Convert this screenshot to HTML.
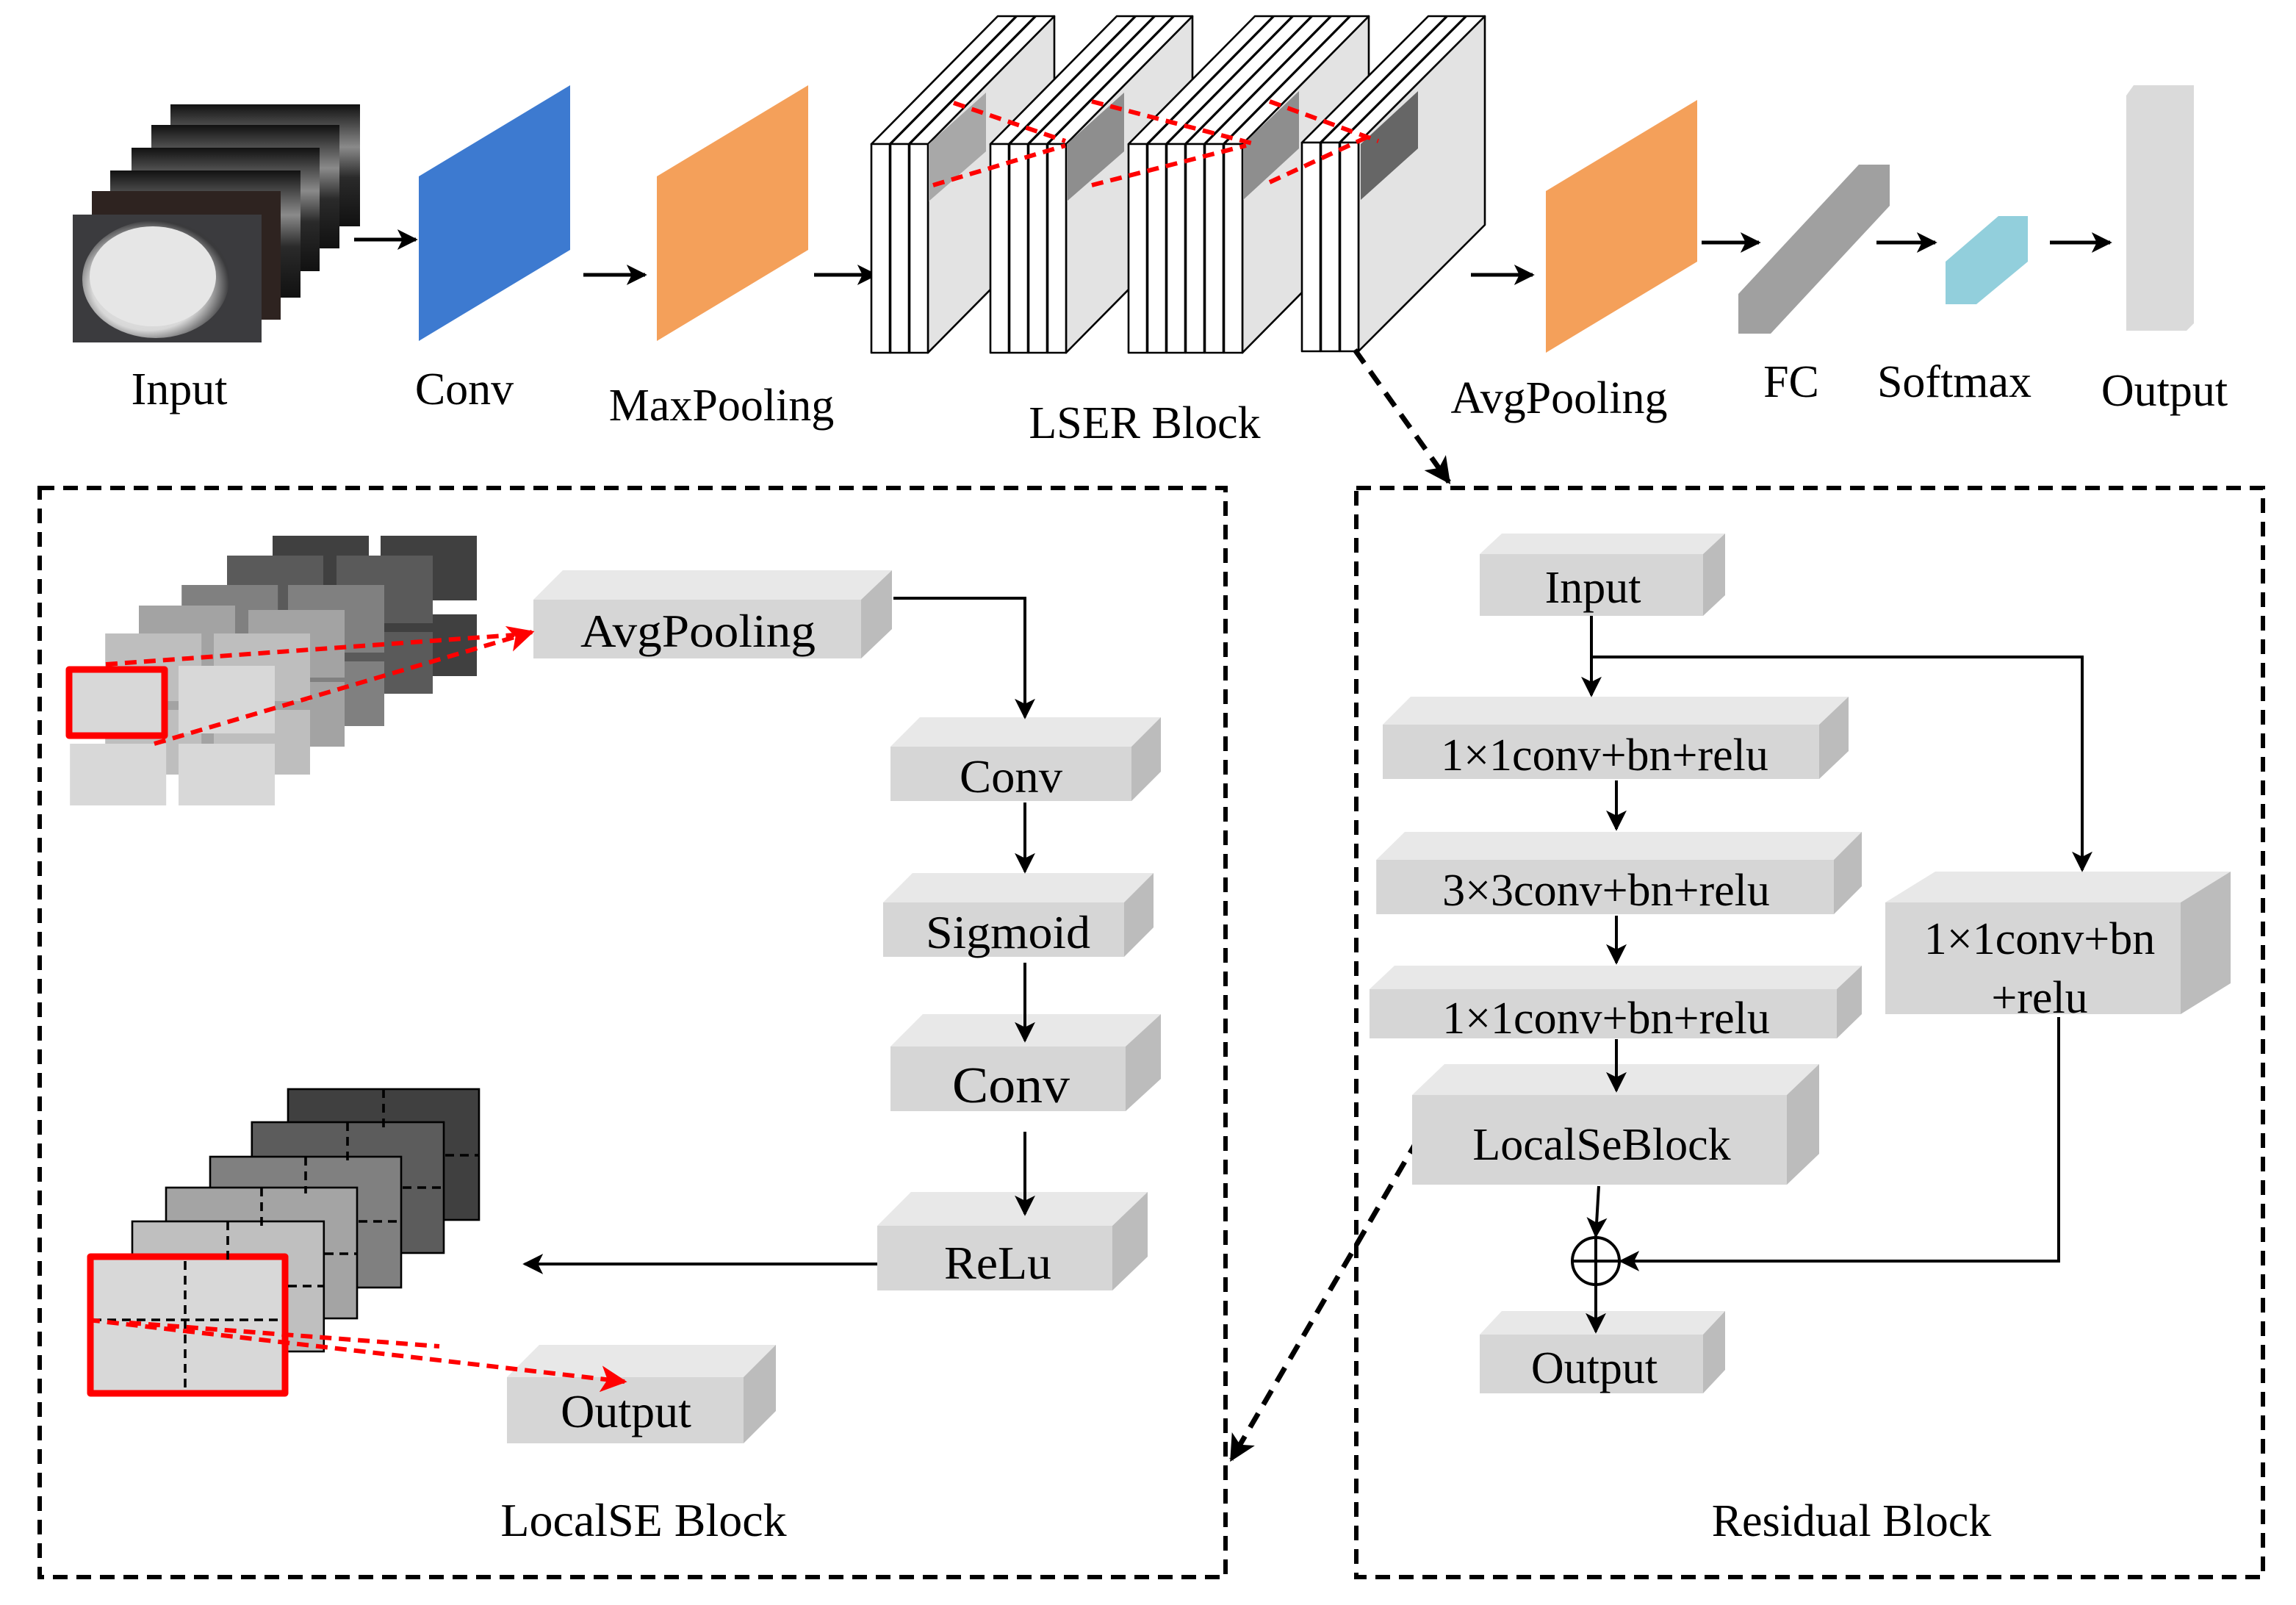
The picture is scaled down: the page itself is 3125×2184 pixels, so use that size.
<!DOCTYPE html>
<html><head><meta charset="utf-8"><style>html,body{margin:0;padding:0;background:#fff}svg{display:block}</style></head>
<body>
<svg xmlns="http://www.w3.org/2000/svg" width="3125" height="2184" viewBox="0 0 1562.5 1092" font-family="'Liberation Serif', serif">
<defs>
<marker id="ah" viewBox="0 0 10 10" refX="9" refY="5" markerWidth="14" markerHeight="14" markerUnits="userSpaceOnUse" orient="auto"><path d="M0,0 L10,5 L0,10 L2.5,5 z" fill="#000"/></marker>
<marker id="rh" viewBox="0 0 10 10" refX="9" refY="5" markerWidth="18" markerHeight="18" markerUnits="userSpaceOnUse" orient="auto"><path d="M0,0 L10,5 L0,10 L2.5,5 z" fill="#f00"/></marker>
<marker id="dh" viewBox="0 0 10 10" refX="9" refY="5" markerWidth="18" markerHeight="18" markerUnits="userSpaceOnUse" orient="auto"><path d="M0,0 L10,5 L0,10 L2.5,5 z" fill="#000"/></marker>
<radialGradient id="blob" cx="0.45" cy="0.55" r="0.55"><stop offset="0" stop-color="#f2f2f2"/><stop offset="0.7" stop-color="#d8d8d8"/><stop offset="1" stop-color="#3a3a3c"/></radialGradient>
<linearGradient id="fr" x1="0" y1="0" x2="0" y2="1"><stop offset="0" stop-color="#111"/><stop offset="0.35" stop-color="#8a8a8a"/><stop offset="0.6" stop-color="#2a2a2a"/><stop offset="1" stop-color="#111"/></linearGradient>
</defs>

<rect x="116" y="71" width="129" height="83" fill="url(#fr)"/>
<rect x="103" y="85" width="128" height="84" fill="url(#fr)"/>
<rect x="89.5" y="100.5" width="128" height="84" fill="url(#fr)"/>
<rect x="75" y="116" width="129.5" height="86.5" fill="url(#fr)"/>
<rect x="62.5" y="130" width="128.5" height="87.5" fill="#2e2320"/>
<rect x="49.5" y="146" width="128.5" height="87" fill="#3b3b3e"/>
<ellipse cx="106" cy="190" rx="50" ry="40" fill="url(#blob)"/>
<ellipse cx="104" cy="188" rx="43" ry="34" fill="#e6e6e6"/>

<g stroke="#000" stroke-width="2.5" fill="none" marker-end="url(#ah)">
<line x1="241" y1="163" x2="283" y2="163"/>
<line x1="397" y1="187" x2="439" y2="187"/>
<line x1="554" y1="187" x2="596" y2="187"/>
<line x1="1001" y1="187" x2="1043" y2="187"/>
<line x1="1158" y1="165" x2="1197" y2="165"/>
<line x1="1277" y1="165" x2="1317" y2="165"/>
<line x1="1395" y1="165" x2="1436" y2="165"/>
</g>

<polygon points="285,120 388,58 388,170 285,232" fill="#3d7ad0"/>
<polygon points="447,120 550,58 550,170 447,232" fill="#f4a05a"/>
<polygon points="1052,130 1155,68 1155,178 1052,240" fill="#f4a05a"/>
<polygon points="1183,200 1265,112 1286,112 1286,140 1205,227 1183,227" fill="#a0a0a0"/>
<polygon points="1324,178 1360,147 1380,147 1380,178 1345,207 1324,207" fill="#92cfdc"/>
<polygon points="1447,65 1452,58 1493,58 1493,220 1488,225 1447,225" fill="#dadada"/>

<g stroke="#000" stroke-width="1.3" stroke-linejoin="round">
<polygon points="631.5,98 717.5,11 717.5,153 631.5,240" fill="#e3e3e3"/>
<g fill="#fff">
<polygon points="593,98 679,11 691.5,11 605.5,98"/><rect x="593" y="98" width="12.5" height="142"/>
<polygon points="606,98 692,11 704.5,11 618.5,98"/><rect x="606" y="98" width="12.5" height="142"/>
<polygon points="619,98 705,11 717.5,11 631.5,98"/><rect x="619" y="98" width="12.5" height="142"/>
</g>
<polygon points="632,98 671,63 671,103 632,137" fill="#a8a8a8" stroke="none"/>
<polygon points="725.5,98 811.5,11 811.5,153 725.5,240" fill="#e3e3e3"/>
<g fill="#fff">
<polygon points="674,98 760,11 772.5,11 686.5,98"/><rect x="674" y="98" width="12.5" height="142"/>
<polygon points="687,98 773,11 785.5,11 699.5,98"/><rect x="687" y="98" width="12.5" height="142"/>
<polygon points="700,98 786,11 798.5,11 712.5,98"/><rect x="700" y="98" width="12.5" height="142"/>
<polygon points="713,98 799,11 811.5,11 725.5,98"/><rect x="713" y="98" width="12.5" height="142"/>
</g>
<polygon points="726,98 765,63 765,103 726,137" fill="#8e8e8e" stroke="none"/>
<polygon points="845.5,98 931.5,11 931.5,153 845.5,240" fill="#e3e3e3"/>
<g fill="#fff">
<polygon points="768,98 854,11 866.5,11 780.5,98"/><rect x="768" y="98" width="12.5" height="142"/>
<polygon points="781,98 867,11 879.5,11 793.5,98"/><rect x="781" y="98" width="12.5" height="142"/>
<polygon points="794,98 880,11 892.5,11 806.5,98"/><rect x="794" y="98" width="12.5" height="142"/>
<polygon points="807,98 893,11 905.5,11 819.5,98"/><rect x="807" y="98" width="12.5" height="142"/>
<polygon points="820,98 906,11 918.5,11 832.5,98"/><rect x="820" y="98" width="12.5" height="142"/>
<polygon points="833,98 919,11 931.5,11 845.5,98"/><rect x="833" y="98" width="12.5" height="142"/>
</g>
<polygon points="846,98 884,62 884,101 846,136" fill="#8e8e8e" stroke="none"/>
<polygon points="924.5,97 1010.5,11 1010.5,153 924.5,239" fill="#e3e3e3"/>
<g fill="#fff">
<polygon points="886,97 972,11 984.5,11 898.5,97"/><rect x="886" y="97" width="12.5" height="142"/>
<polygon points="899,97 985,11 997.5,11 911.5,97"/><rect x="899" y="97" width="12.5" height="142"/>
<polygon points="912,97 998,11 1010.5,11 924.5,97"/><rect x="912" y="97" width="12.5" height="142"/>
</g>
<polygon points="926,98 965,62 965,101 926,136" fill="#666" stroke="none"/>
</g>
<g stroke="#f00" stroke-width="3" stroke-dasharray="8,5" fill="none">
<line x1="649" y1="70" x2="725" y2="96"/>
<line x1="635" y1="126" x2="725" y2="99"/>
<line x1="743" y1="69" x2="854" y2="98"/>
<line x1="743" y1="126" x2="848" y2="99"/>
<line x1="864" y1="69" x2="938" y2="96"/>
<line x1="864" y1="124" x2="931" y2="93"/>
</g>

<g font-size="31" text-anchor="middle" fill="#000">
<text x="122" y="275">Input</text>
<text x="316" y="275">Conv</text>
<text x="491" y="286">MaxPooling</text>
<text x="779" y="298">LSER Block</text>
<text x="1061" y="281">AvgPooling</text>
<text x="1219" y="270">FC</text>
<text x="1330" y="270">Softmax</text>
<text x="1473" y="276">Output</text>
</g>

<g stroke="#000" stroke-width="3" stroke-dasharray="10,6" fill="none">
<rect x="27" y="332" width="807" height="741"/>
<rect x="923" y="332" width="617" height="741"/>
</g>
<line x1="922" y1="238" x2="986" y2="328" stroke="#000" stroke-width="3.5" stroke-dasharray="11,7" marker-end="url(#dh)"/>
<line x1="965" y1="775" x2="838" y2="993" stroke="#000" stroke-width="3.5" stroke-dasharray="11,7" marker-end="url(#dh)"/>

<g>
<g fill="#404040"><rect x="185.5" y="364.5" width="65.5" height="44"/><rect x="259" y="364.5" width="65.5" height="44"/><rect x="185.5" y="418" width="65.5" height="42"/><rect x="259" y="418" width="65.5" height="42"/></g>
<g fill="#5a5a5a"><rect x="154.5" y="378" width="65.5" height="46"/><rect x="229" y="378" width="65.5" height="46"/><rect x="154.5" y="430" width="65.5" height="42"/><rect x="229" y="430" width="65.5" height="42"/></g>
<g fill="#808080"><rect x="123.6" y="398" width="65.5" height="46"/><rect x="196" y="398" width="65.5" height="46"/><rect x="123.6" y="450" width="65.5" height="44"/><rect x="196" y="450" width="65.5" height="44"/></g>
<g fill="#a3a3a3"><rect x="94.5" y="412" width="65.5" height="48"/><rect x="169" y="415" width="65.5" height="46"/><rect x="94.5" y="464" width="65.5" height="44"/><rect x="169" y="464" width="65.5" height="44"/></g>
<g fill="#bebebe"><rect x="71.6" y="431" width="65.5" height="46"/><rect x="145.5" y="431" width="65.5" height="46"/><rect x="71.6" y="483" width="65.5" height="44"/><rect x="145.5" y="483" width="65.5" height="44"/></g>
<g fill="#d8d8d8"><rect x="48" y="454" width="65" height="46"/><rect x="121.5" y="453" width="65.5" height="46"/><rect x="47.6" y="506" width="65.5" height="42"/><rect x="121.5" y="506" width="65.5" height="42"/></g>
<rect x="47" y="455.5" width="65" height="45" fill="none" stroke="#f00" stroke-width="4.5" stroke-linejoin="round"/>
</g>

<g stroke="#000" stroke-width="1.3">
<rect x="196" y="741" width="130" height="89" fill="#404040"/>
<rect x="171.4" y="763.5" width="130.6" height="89" fill="#5c5c5c"/>
<rect x="143" y="787" width="130" height="89" fill="#808080"/>
<rect x="113" y="808" width="130" height="89" fill="#a4a4a4"/>
<rect x="90" y="831" width="130.4" height="88.5" fill="#bfbfbf"/>
<rect x="61.5" y="855" width="132.5" height="93" fill="#d8d8d8" stroke="#f00" stroke-width="4.5" stroke-linejoin="round"/>
</g>
<g stroke="#000" stroke-width="1.8" stroke-dasharray="6,4" fill="none">
<line x1="261" y1="741" x2="261" y2="768"/><line x1="236.5" y1="763.5" x2="236.5" y2="790"/>
<line x1="208" y1="787" x2="208" y2="812"/><line x1="178" y1="808" x2="178" y2="834"/>
<line x1="155" y1="831" x2="155" y2="858"/><line x1="126" y1="858" x2="126" y2="946"/>
<line x1="303" y1="786" x2="326" y2="786"/><line x1="274" y1="808" x2="302" y2="808"/>
<line x1="244" y1="831" x2="273" y2="831"/><line x1="221" y1="853" x2="243" y2="853"/>
<line x1="196" y1="875" x2="220" y2="875"/><line x1="63" y1="898" x2="192" y2="898"/>
</g>

<g>
<g><rect x="363" y="408" width="223" height="40" fill="#d6d6d6"/><polygon points="363,408 383,388 607,388 586,408" fill="#e8e8e8"/><polygon points="586,408 607,388 607,428 586,448" fill="#bcbcbc"/></g>
<g><rect x="606" y="508" width="164" height="37" fill="#d6d6d6"/><polygon points="606,508 626,488 790,488 770,508" fill="#e8e8e8"/><polygon points="770,508 790,488 790,525 770,545" fill="#bcbcbc"/></g>
<g><rect x="601" y="614" width="164" height="37" fill="#d6d6d6"/><polygon points="601,614 621,594 785,594 765,614" fill="#e8e8e8"/><polygon points="765,614 785,594 785,631 765,651" fill="#bcbcbc"/></g>
<g><rect x="606" y="712" width="160" height="44" fill="#d6d6d6"/><polygon points="606,712 628,690 790,690 766,712" fill="#e8e8e8"/><polygon points="766,712 790,690 790,734 766,756" fill="#bcbcbc"/></g>
<g><rect x="597" y="834" width="160" height="44" fill="#d6d6d6"/><polygon points="597,834 620,811 781,811 757,834" fill="#e8e8e8"/><polygon points="757,834 781,811 781,855 757,878" fill="#bcbcbc"/></g>
<g><rect x="345" y="937" width="161" height="45" fill="#d6d6d6"/><polygon points="345,937 367,915 528,915 506,937" fill="#e8e8e8"/><polygon points="506,937 528,915 528,960 506,982" fill="#bcbcbc"/></g>
</g>

<g stroke="#f00" stroke-width="3" stroke-dasharray="8,5" fill="none">
<line x1="72" y1="452" x2="350" y2="432"/>
<line x1="105" y1="506" x2="362" y2="430" marker-end="url(#rh)"/>
<line x1="88" y1="900" x2="299" y2="916"/>
<line x1="60" y1="898" x2="425" y2="940" marker-end="url(#rh)"/>
</g>

<g stroke="#000" stroke-width="2" fill="none">
<polyline points="608,407 697.5,407 697.5,488" marker-end="url(#ah)"/>
<line x1="697.5" y1="546" x2="697.5" y2="593" marker-end="url(#ah)"/>
<line x1="697.5" y1="655" x2="697.5" y2="708" marker-end="url(#ah)"/>
<line x1="697.5" y1="770" x2="697.5" y2="826" marker-end="url(#ah)"/>
<line x1="597" y1="860" x2="357" y2="860" marker-end="url(#ah)"/>
</g>
<g font-size="32" text-anchor="middle" fill="#000">
<text x="475" y="440" textLength="160" lengthAdjust="spacingAndGlyphs">AvgPooling</text>
<text x="688" y="539" textLength="70" lengthAdjust="spacingAndGlyphs">Conv</text>
<text x="686" y="645" textLength="112" lengthAdjust="spacingAndGlyphs">Sigmoid</text>
<text x="688" y="750" font-size="35" textLength="80" lengthAdjust="spacingAndGlyphs">Conv</text>
<text x="679" y="870" textLength="73" lengthAdjust="spacingAndGlyphs">ReLu</text>
<text x="426" y="971">Output</text>
<text x="438" y="1045">LocalSE Block</text>
</g>

<g>
<g><rect x="1007" y="377" width="152" height="42" fill="#d6d6d6"/><polygon points="1007,377 1022,363 1174,363 1159,377" fill="#e8e8e8"/><polygon points="1159,377 1174,363 1174,405 1159,419" fill="#bcbcbc"/></g>
<g><rect x="941" y="493" width="297" height="37" fill="#d6d6d6"/><polygon points="941,493 960,474 1258,474 1238,493" fill="#e8e8e8"/><polygon points="1238,493 1258,474 1258,511 1238,530" fill="#bcbcbc"/></g>
<g><rect x="936.6" y="585" width="311.4" height="37" fill="#d6d6d6"/><polygon points="936.6,585 956,566 1267,566 1248,585" fill="#e8e8e8"/><polygon points="1248,585 1267,566 1267,603 1248,622" fill="#bcbcbc"/></g>
<g><rect x="932" y="673" width="318" height="33.5" fill="#d6d6d6"/><polygon points="932,673 949,657 1267,657 1250,673" fill="#e8e8e8"/><polygon points="1250,673 1267,657 1267,690 1250,706.5" fill="#bcbcbc"/></g>
<g><rect x="961" y="745" width="255" height="61" fill="#d6d6d6"/><polygon points="961,745 983,724 1238,724 1216,745" fill="#e8e8e8"/><polygon points="1216,745 1238,724 1238,785 1216,806" fill="#bcbcbc"/></g>
<g><rect x="1007" y="908" width="152" height="40" fill="#d6d6d6"/><polygon points="1007,908 1022,892 1174,892 1159,908" fill="#e8e8e8"/><polygon points="1159,908 1174,892 1174,932 1159,948" fill="#bcbcbc"/></g>
<g><rect x="1283" y="614" width="201" height="76" fill="#d6d6d6"/><polygon points="1283,614 1317,593 1518,593 1484,614" fill="#e8e8e8"/><polygon points="1484,614 1518,593 1518,669 1484,690" fill="#bcbcbc"/></g>
</g>
<g stroke="#000" stroke-width="2" fill="none">
<line x1="1083" y1="419" x2="1083" y2="473" marker-end="url(#ah)"/>
<polyline points="1083,447 1417,447 1417,592" marker-end="url(#ah)"/>
<line x1="1100" y1="531" x2="1100" y2="564" marker-end="url(#ah)"/>
<line x1="1100" y1="623" x2="1100" y2="655" marker-end="url(#ah)"/>
<line x1="1100" y1="707" x2="1100" y2="742" marker-end="url(#ah)"/>
<line x1="1088" y1="807" x2="1086" y2="841" marker-end="url(#ah)"/>
<circle cx="1086" cy="858" r="16"/>
<line x1="1070" y1="858" x2="1102" y2="858"/><line x1="1086" y1="842" x2="1086" y2="874"/>
<line x1="1086" y1="874" x2="1086" y2="906" marker-end="url(#ah)"/>
<polyline points="1401,692 1401,858 1103,858" marker-end="url(#ah)"/>
</g>
<g font-size="31" text-anchor="middle" fill="#000">
<text x="1084" y="410">Input</text>
<text x="1092" y="524">1×1conv+bn+relu</text>
<text x="1093" y="616">3×3conv+bn+relu</text>
<text x="1093" y="703">1×1conv+bn+relu</text>
<text x="1090" y="789">LocalSeBlock</text>
<text x="1085" y="941">Output</text>
<text x="1388" y="649">1×1conv+bn</text>
<text x="1388" y="689">+relu</text>
<text x="1260" y="1045">Residual Block</text>
</g>
</svg>
</body></html>
